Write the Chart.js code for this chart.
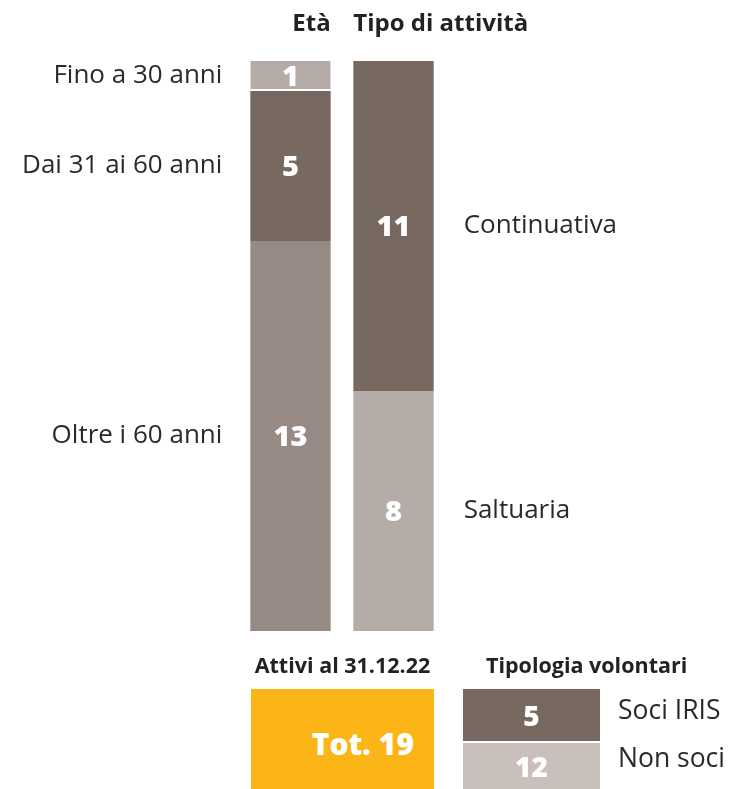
<!DOCTYPE html>
<html>
<head>
<meta charset="utf-8">
<script src="https://cdn.jsdelivr.net/npm/chart.js@4"></script>
<style>
  html, body { margin: 0; padding: 0; background: #fff; }
  #wrap { position: relative; width: 729px; height: 789px; overflow: hidden; font-family: "Open Sans", sans-serif; }
  #c { position: absolute; left: 0; top: 0; }
  .hdr { position: absolute; font-weight: 700; font-size: 21.5px; color: #222; white-space: nowrap; line-height: 1; }
  .box { position: absolute; color: #fff; font-weight: 800; display: flex; align-items: center; justify-content: center; }
  .lbl { position: absolute; font-size: 26.5px; color: #2a2a2a; white-space: nowrap; line-height: 1; }
</style>
</head>
<body>
<div id="wrap">
  <canvas id="c" width="729" height="789"></canvas>
</div>
<script>
// ---- data ----
const categories = ['Età', 'Tipo di attività'];
const ageLabels = ['Fino a 30 anni', 'Dai 31 ai 60 anni', 'Oltre i 60 anni'];
const ageValues = [1, 5, 13];
const activityLabels = ['Continuativa', 'Saltuaria'];
const activityValues = [11, 8];
const totalLabel = 'Attivi al 31.12.22';
const totalValue = 19;
const typeTitle = 'Tipologia volontari';
const typeLabels = ['Soci IRIS', 'Non soci'];
const typeValues = [5, 12];

// ---- styles ----
const ageColors = ['#B5ABA6', '#776860', '#978A84'];
const activityColors = ['#776860', '#B6ACA7'];
const typeColors = ['#776860', '#C9C0BC'];
const totalColor = '#FBB516';

// stacked datasets: first dataset sits at the bottom
const datasets = [];
for (let i = ageValues.length - 1; i >= 0; i--) {
  datasets.push({
    label: ageLabels[i], side: 'left',
    data: [ageValues[i], null],
    backgroundColor: ageColors[i],
    borderColor: '#ffffff',
    borderWidth: i === 0 ? { bottom: 2, top: 0, left: 0, right: 0 } : 0,
    borderSkipped: false
  });
}
for (let i = activityValues.length - 1; i >= 0; i--) {
  datasets.push({
    label: activityLabels[i], side: 'right',
    data: [null, activityValues[i]],
    backgroundColor: activityColors[i],
    borderWidth: 0
  });
}

const labelPlugin = {
  id: 'labels',
  afterDatasetsDraw(chart) {
    const ctx = chart.ctx;
    ctx.save();
    chart.data.datasets.forEach((ds, di) => {
      const meta = chart.getDatasetMeta(di);
      meta.data.forEach((el, i) => {
        const v = ds.data[i];
        if (v == null) return;
        const cy = (el.y + el.base) / 2;
        ctx.fillStyle = '#ffffff';
        ctx.font = '800 29px "Open Sans", sans-serif';
        ctx.textAlign = 'center';
        ctx.textBaseline = 'middle';
        ctx.fillText(String(v), el.x, cy + 2);
        ctx.fillStyle = '#2a2a2a';
        ctx.font = '400 26px "Open Sans", sans-serif';
        if (ds.side === 'left') {
          ctx.textAlign = 'right';
          ctx.fillText(ds.label, el.x - el.width / 2 - 28, cy);
        } else {
          ctx.textAlign = 'left';
          ctx.fillText(ds.label, el.x + el.width / 2 + 30, cy);
        }
      });
    });
    // category headers
    const m0 = chart.getDatasetMeta(0).data[0];
    const m1 = chart.getDatasetMeta(datasets.length - 1).data[1];
    ctx.fillStyle = '#222';
    ctx.font = '700 24px "Open Sans", sans-serif';
    ctx.textBaseline = 'middle';
    ctx.textAlign = 'right';
    ctx.fillText(categories[0], m0.x + m0.width / 2, 24);
    ctx.textAlign = 'left';
    ctx.fillText(categories[1], m1.x - m1.width / 2, 24);
    ctx.restore();
  }
};

new Chart(document.getElementById('c'), {
  type: 'bar',
  data: { labels: categories, datasets },
  options: {
    responsive: false,
    animation: false,
    layout: { padding: { left: 239, right: 284, top: 61, bottom: 158 } },
    plugins: { legend: { display: false }, tooltip: { enabled: false } },
    datasets: { bar: { barPercentage: 0.78, categoryPercentage: 1 } },
    scales: {
      x: { stacked: true, display: false },
      y: { stacked: true, display: false, min: 0, max: ageValues.reduce((a, b) => a + b, 0) }
    }
  },
  plugins: [labelPlugin]
});

// ---- bottom tiles (HTML text) ----
const wrap = document.getElementById('wrap');
function add(cls, text, style) {
  const d = document.createElement('div');
  d.className = cls;
  d.textContent = text;
  Object.assign(d.style, style);
  wrap.appendChild(d);
  return d;
}
add('hdr', totalLabel, { left: '251px', top: '654px', width: '183px', textAlign: 'center' });
add('hdr', typeTitle, { left: '486px', top: '654px' });
add('box', 'Tot. ' + totalValue, { left: '251px', top: '689px', width: '183px', height: '100px', background: totalColor, fontSize: '30px', justifyContent: 'flex-end', paddingRight: '20px', boxSizing: 'border-box', paddingTop: '8px' });
add('box', String(typeValues[0]), { left: '463px', top: '689px', width: '137px', height: '52px', background: typeColors[0], fontSize: '28px' });
add('box', String(typeValues[1]), { left: '463px', top: '743px', width: '137px', height: '46px', background: typeColors[1], fontSize: '28px' });
add('lbl', typeLabels[0], { left: '618px', top: '696px' });
add('lbl', typeLabels[1], { left: '618px', top: '744px' });
</script>
</body>
</html>
